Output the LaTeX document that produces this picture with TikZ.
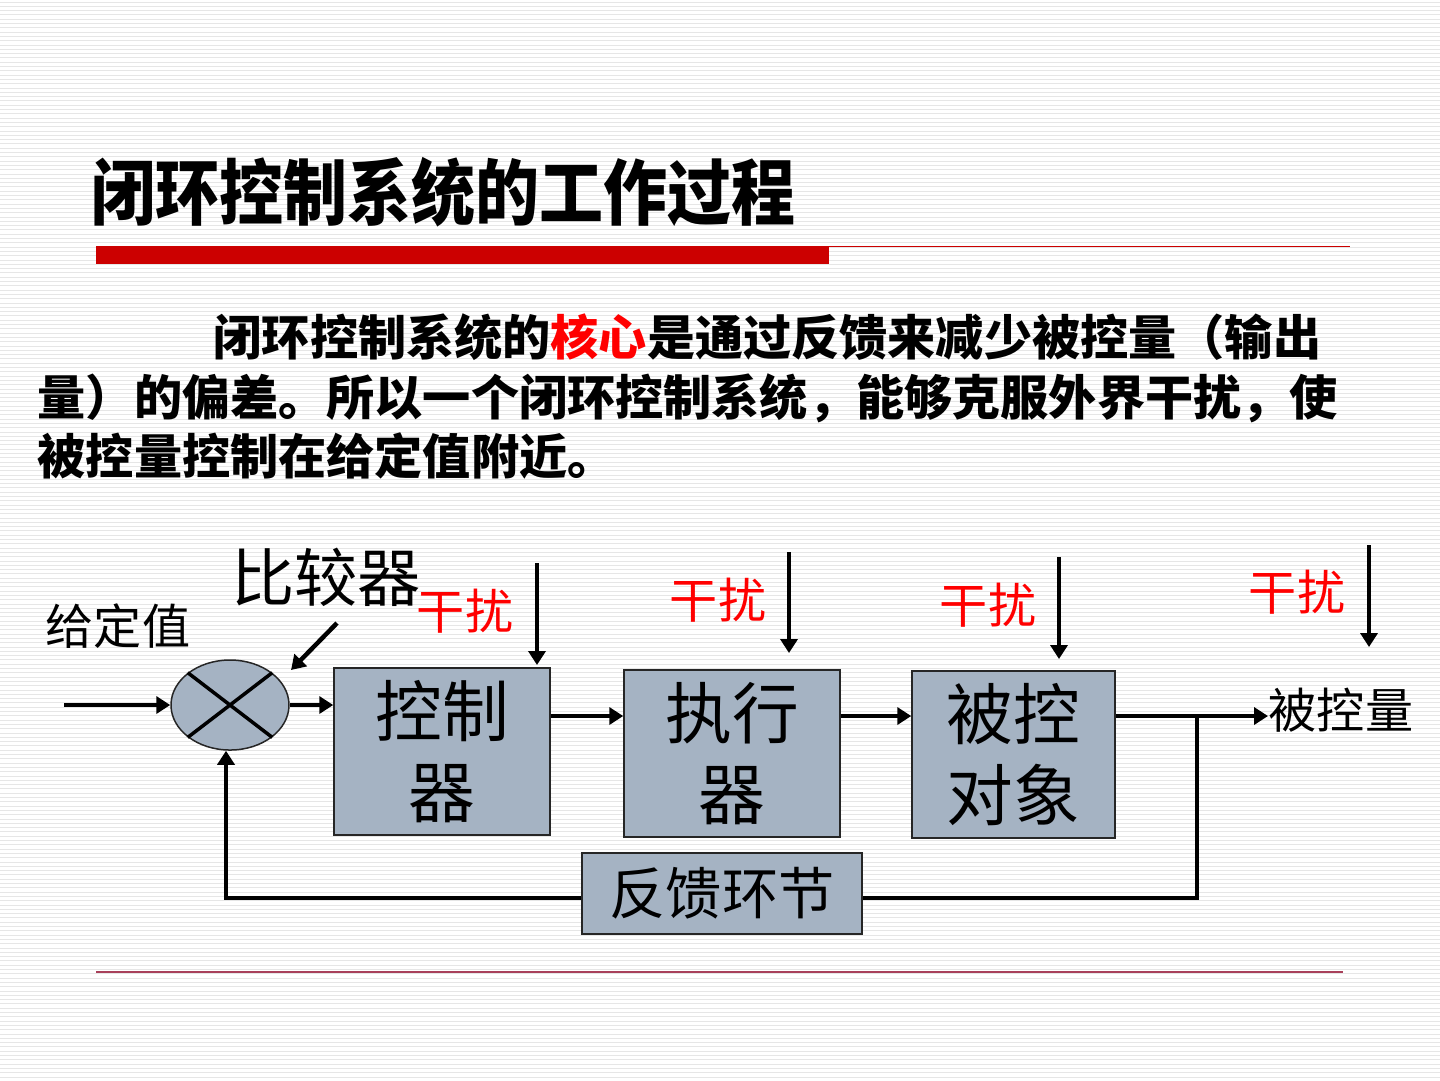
\documentclass[tikz,border=0pt]{standalone}
\usepackage{fontspec}
\newfontfamily\cjk{Noto Sans CJK SC}
\usepackage{tikz}
\usetikzlibrary{arrows.meta,positioning,calc,shapes.geometric}
\definecolor{boxfill}{HTML}{A5B3C3}
\definecolor{barred}{HTML}{CC0000}
\definecolor{rulered}{HTML}{A8405A}
\definecolor{stripe}{HTML}{E6E6E6}
\tikzset{
  blk/.style    = {draw=black!85,line width=0.15mm,fill=boxfill,inner sep=0pt,
                   align=center,font=\cjk\fontsize{19}{22.8}\selectfont},
  sig/.style    = {-{Triangle[length=1.4mm,width=1.7mm]},line width=0.45mm},
  wire/.style   = {line width=0.45mm},
  lbl/.style    = {inner sep=0pt,font=\cjk\fontsize{13.7}{16}\selectfont},
  dist/.style   = {lbl,text=red},
  body/.style   = {anchor=west,inner sep=0pt,font=\cjk\bfseries\fontsize{13.7}{16}\selectfont},
}

\begin{document}
\begin{tikzpicture}[x=0.1mm,y=-0.1mm]
  % page and background stripes
  \useasboundingbox (0,0) rectangle (1440,1080);
  \fill[white] (0,0) rectangle (1440,1080);
  \foreach \k in {0,...,250}
    \draw[stripe,line width=0.1mm] (0,2+\k*4.3) -- (1440,2+\k*4.3);

  % title and rules
  \node[anchor=west,inner sep=0pt,yscale=1.12,transform shape,
        font=\cjk\bfseries\fontsize{18.2}{22}\selectfont]
    (title) at (91,192) {闭环控制系统的工作过程};
  \fill[barred] (96,246) rectangle (829,264);
  \draw[barred,line width=0.1mm] (829,246.5) -- (1350,246.5);
  \draw[rulered,line width=0.15mm] (96,972) -- (1343,972);

  % text
  \node[body] (l1) at (213,337) {闭环控制系统的\textcolor{red}{核心}是通过反馈来减少被控量（输出};
  \node[body] (l2) at (37,398) {量）的偏差。所以一个闭环控制系统，能够克服外界干扰，使};
  \node[body] (l3) at (37,456) {被控量控制在给定值附近。};

  % blocks
  \node[ellipse,draw=black!85,line width=0.15mm,fill=boxfill,minimum width=11.8mm,
        minimum height=9mm,inner sep=0pt] (cmp) at (230,705) {};
  \draw[line width=0.35mm] (cmp.north west) -- (cmp.south east)
                           (cmp.north east) -- (cmp.south west);
  \node[blk,minimum width=21.6mm,minimum height=16.7mm] (ctrl) at (442,751.5) {控制\\器};
  \node[blk,minimum width=21.6mm,minimum height=16.7mm] (act) at (732,753.5) {执行\\器};
  \node[blk,minimum width=20.3mm,minimum height=16.7mm] (plant) at (1013.5,754.5) {被控\\对象};
  \node[blk,minimum width=28mm,minimum height=8.1mm,font=\cjk\fontsize{16}{19}\selectfont]
    (fb) at (722,893.5) {反馈环节};

  % labels
  \node[lbl] (ref) at (118,626) {给定值};
  \node[inner sep=0pt,font=\cjk\fontsize{18}{21}\selectfont] (cmplbl) at (326,577) {比较器};
  \node[lbl,anchor=west] (out) at (1268,710) {被控量};
  \node[dist] (d1) at (465,611) {干扰};
  \node[dist] (d2) at (718,600) {干扰};
  \node[dist] (d3) at (988,605) {干扰};
  \node[dist] (d4) at (1297,592) {干扰};

  % signal path
  \coordinate (in) at (64,705);
  \coordinate (tap) at (1197,716);
  \coordinate (fbrow) at (226,898);
  \draw[sig] (in) -- (cmp.west);
  \draw[sig] (cmp.east) -- (cmp.east -| ctrl.west);
  \draw[sig] (ctrl.east |- tap) -- (act.west |- tap);
  \draw[sig] (act.east |- tap) -- (plant.west |- tap);
  \draw[sig] (plant.east |- tap) -- (out.west |- tap);
  \draw[wire] (tap) |- (fb.east |- fbrow);
  \draw[sig] (fb.west |- fbrow) -- (fbrow) -- (fbrow |- cmp.south);
  \draw[sig] (337,623) -- (291,670);

  % disturbances
  \foreach \x/\a/\b in {537/563/665,789/552/653,1059/557/659,1369/545/647}
    \draw[sig] (\x,\a) -- (\x,\b);
\end{tikzpicture}
\end{document}
